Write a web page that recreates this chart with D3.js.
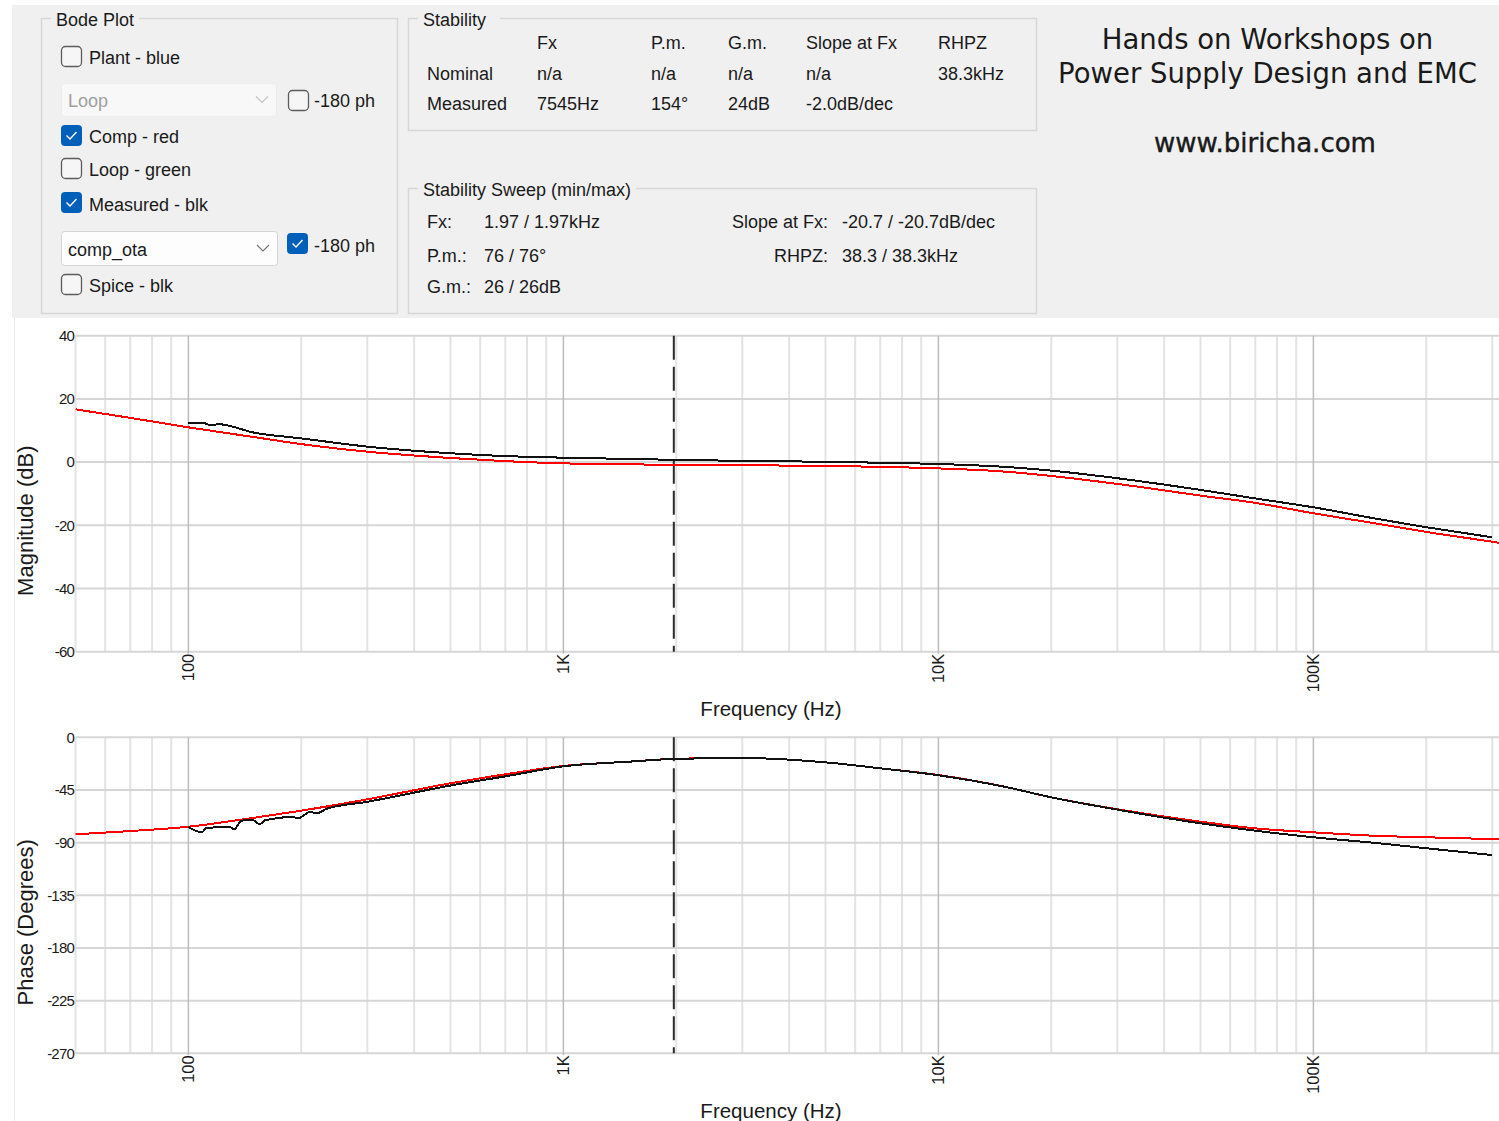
<!DOCTYPE html>
<html>
<head>
<meta charset="utf-8">
<script src="https://cdnjs.cloudflare.com/ajax/libs/d3/7.8.5/d3.min.js"></script>
<style>
body { margin: 0; background: #fff; }
svg text { font-family: "Liberation Sans", Arial, sans-serif; fill: #1a1a1a; }
</style>
</head>
<body>
<div id="bode"></div>
<script>
// compensator (red) curve
var compFreq  = [50, 70, 100, 150, 200, 300, 500, 700, 1000, 1500, 2000, 3000, 5000, 7000, 10000, 15000, 20000, 30000, 50000, 70000, 100000, 150000, 200000, 300000, 400000];
var compMag   = [16.7, 14.0, 11.0, 7.9, 5.7, 3.3, 1.3, 0.3, -0.4, -0.7, -0.9, -1.0, -1.2, -1.5, -2.0, -3.0, -4.4, -6.9, -10.6, -12.9, -16.2, -19.6, -22.1, -25.2, -27.5];
var compPhase = [-82.9, -80.1, -76.4, -68.7, -62.7, -53.0, -39.3, -31.6, -24.5, -20.8, -18.3, -17.7, -21.4, -26.5, -32.2, -42.2, -51.3, -61.5, -72.1, -77.8, -81.2, -84.3, -85.4, -87.0, -88.0];

// measured (black) magnitude
var measMagFreq = [100, 110, 115, 120, 150, 200, 300, 500, 700, 1000, 1500, 2000, 3000, 5000, 7000, 10000, 15000, 20000, 30000, 50000, 70000, 100000, 150000, 200000, 300000];
var measMag     = [12.3, 12.3, 11.6, 12.0, 9.3, 7.5, 4.9, 2.8, 1.9, 1.4, 1.0, 0.7, 0.4, 0.1, -0.2, -0.6, -1.5, -2.7, -5.1, -8.8, -11.5, -14.3, -18.1, -20.6, -23.8];

// measured (black) phase, noisy at low frequency
var measPhaseFreq = [100, 108.6, 111.5, 129, 132, 139, 148, 155, 160, 190, 196, 211, 220, 234, 299, 318, 500, 700, 1000, 1500, 2000, 3000, 5000, 7000, 10000, 15000, 20000, 30000, 50000, 70000, 100000, 150000, 200000, 300000];
var measPhase     = [-76.6, -81.2, -77.6, -76.4, -78.8, -71.2, -70.6, -74.3, -70.9, -68.0, -69.2, -63.8, -65.0, -61.0, -55.2, -53.6, -41.2, -33.4, -24.8, -20.8, -18.4, -17.7, -21.4, -26.5, -32.4, -42.2, -51.3, -61.8, -73.5, -79.8, -85.4, -90.6, -94.8, -100.6];

var magTicks = [40, 20, 0, -20, -40, -60];
var phaseTicks = [0, -45, -90, -135, -180, -225, -270];
var freqTicks = [100, 1000, 10000, 100000];
var freqLabels = ["100", "1K", "10K", "100K"];
var crossFreq = 1970;

var svgWidth = 1499;
var svgHeight = 1121;

var svg = d3.select('#bode')
    .append('svg')
    .attr('width', svgWidth)
    .attr('height', svgHeight);

//---------------- top control panel ----------------
svg.append('rect').attr('x', 12).attr('y', 5).attr('width', 1487).attr('height', 313).attr('fill', '#f0f0f0');
svg.append('line').attr('x1', 14.5).attr('x2', 14.5).attr('y1', 318).attr('y2', svgHeight).attr('stroke', '#e8e8e8');

function groupBox(x, y, w, h, title, titleW) {
    svg.append('rect').attr('x', x + 0.5).attr('y', y + 0.5).attr('width', w).attr('height', h)
        .attr('fill', 'none').attr('stroke', '#d7d7d7').attr('stroke-width', 1.5);
    svg.append('rect').attr('x', x + 10).attr('y', y - 4).attr('width', titleW).attr('height', 10).attr('fill', '#f0f0f0');
    svg.append('text').attr('x', x + 15).attr('y', y + 7.5).style('font-size', '18px').text(title);
}

function label(x, y, txt, anchor, color) {
    return svg.append('text').attr('x', x).attr('y', y)
        .style('font-size', '18px')
        .style('text-anchor', anchor || 'start')
        .style('fill', color || '#1a1a1a')
        .text(txt);
}

function checkBox(x, y, checked) {
    if (checked) {
        svg.append('rect').attr('x', x).attr('y', y).attr('width', 21).attr('height', 21).attr('rx', 4)
            .attr('fill', '#005fb8');
        svg.append('path').attr('d', `M${x + 5.5},${y + 10.5} L${x + 9},${y + 14} L${x + 15.5},${y + 7}`)
            .attr('fill', 'none').attr('stroke', '#fff').attr('stroke-width', 1.4);
    } else {
        svg.append('rect').attr('x', x + 0.5).attr('y', y + 0.5).attr('width', 20).attr('height', 20).attr('rx', 4)
            .attr('fill', '#f6f6f6').attr('stroke', '#5c5c5c').attr('stroke-width', 1.3);
    }
}

function comboBox(x, y, w, h, txt, disabled) {
    svg.append('rect').attr('x', x + 0.5).attr('y', y + 0.5).attr('width', w).attr('height', h).attr('rx', 3)
        .attr('fill', disabled ? '#f8f8f8' : '#fdfdfd').attr('stroke', disabled ? '#ececec' : '#d4d4d4');
    var cx = x + w - 14, cy = y + h / 2;
    svg.append('path').attr('d', `M${cx - 6},${cy - 3} L${cx},${cy + 3} L${cx + 6},${cy - 3}`)
        .attr('fill', 'none').attr('stroke', disabled ? '#c4c4c4' : '#777').attr('stroke-width', 1.2);
    label(x + 7, y + h - 9, txt, 'start', disabled ? '#a0a0a0' : '#1a1a1a');
}

// Bode Plot group
groupBox(41, 18, 356, 295, 'Bode Plot', 88);
checkBox(61, 46, false); label(89, 64, 'Plant - blue');
comboBox(61, 83, 215, 33, 'Loop', true);
checkBox(288, 90, false); label(314, 107, '-180 ph');
checkBox(61, 125, true); label(89, 143, 'Comp - red');
checkBox(61, 158, false); label(89, 176, 'Loop - green');
checkBox(61, 192, true); label(89, 211, 'Measured - blk');
comboBox(61, 231, 216, 34, 'comp_ota', false);
checkBox(287, 233, true); label(314, 252, '-180 ph');
checkBox(61, 274, false); label(89, 292, 'Spice - blk');

// Stability group
groupBox(408, 18, 628, 112, 'Stability', 82);
var stabCols = [537, 651, 728, 806, 938];
var stabHead = ['Fx', 'P.m.', 'G.m.', 'Slope at Fx', 'RHPZ'];
var stabNominal = ['n/a', 'n/a', 'n/a', 'n/a', '38.3kHz'];
var stabMeasured = ['7545Hz', '154°', '24dB', '-2.0dB/dec', ''];
stabHead.forEach((t, i) => label(stabCols[i], 49, t));
label(427, 80, 'Nominal');
stabNominal.forEach((t, i) => label(stabCols[i], 80, t));
label(427, 110, 'Measured');
stabMeasured.forEach((t, i) => label(stabCols[i], 110, t));

// Stability sweep group
groupBox(408, 188, 628, 125, 'Stability Sweep (min/max)', 218);
label(427, 228, 'Fx:'); label(484, 228, '1.97 / 1.97kHz');
label(427, 262, 'P.m.:'); label(484, 262, '76 / 76°');
label(427, 293, 'G.m.:'); label(484, 293, '26 / 26dB');
label(828, 228, 'Slope at Fx:', 'end'); label(842, 228, '-20.7 / -20.7dB/dec');
label(828, 262, 'RHPZ:', 'end'); label(842, 262, '38.3 / 38.3kHz');

// banner text
var banner = svg.append('g');
banner.append('text').attr('x', 1267.5).attr('y', 48.5).style('text-anchor', 'middle')
    .style('font-family', '"DejaVu Sans"').style('font-size', '27.5px').text('Hands on Workshops on');
banner.append('text').attr('x', 1267.5).attr('y', 82.5).style('text-anchor', 'middle')
    .style('font-family', '"DejaVu Sans"').style('font-size', '27.5px').text('Power Supply Design and EMC');
banner.append('text').attr('x', 1265).attr('y', 151.5).style('text-anchor', 'middle')
    .style('font-family', '"DejaVu Sans"').style('font-size', '26px').style('stroke', '#1a1a1a').style('stroke-width', 0.4)
    .text('www.biricha.com');

//---------------- plots ----------------
var plotLeft = 75.5;
var decadePx = 375;
var x = d3.scaleLog().domain([50, 500000]).range([plotLeft, plotLeft + 4 * decadePx]);

var magY = d3.scaleLinear().domain([-60, 40]).range([651.7, 335.7]);
var phaseY = d3.scaleLinear().domain([-270, 0]).range([1053.3, 737.3]);

function drawPanel(yScale, ticks, id, yTitle, comp, meas, measFreq) {
    var top = yScale.range()[1], bottom = yScale.range()[0];
    var g = svg.append('g');

    svg.append('clipPath').attr('id', id)
        .append('rect').attr('x', plotLeft).attr('y', top - 2).attr('width', svgWidth - plotLeft).attr('height', bottom - top + 4);

    // vertical grid (log minor and decades)
    var xt = x.ticks().filter(f => x(f) <= svgWidth);
    g.selectAll('.vminor').data(xt.filter(f => freqTicks.indexOf(f) < 0))
        .enter().append('line')
        .attr('x1', d => x(d)).attr('x2', d => x(d))
        .attr('y1', top).attr('y2', bottom)
        .attr('stroke', '#e3e3e3').attr('stroke-width', 2);

    // horizontal grid
    g.selectAll('.hgrid').data(ticks)
        .enter().append('line')
        .attr('x1', plotLeft).attr('x2', svgWidth)
        .attr('y1', d => yScale(d)).attr('y2', d => yScale(d))
        .attr('stroke', '#d6d6d6').attr('stroke-width', 2);

    g.selectAll('.vmajor').data(freqTicks)
        .enter().append('line')
        .attr('x1', d => x(d)).attr('x2', d => x(d))
        .attr('y1', top).attr('y2', bottom + 2)
        .attr('stroke', '#bcbcbc').attr('stroke-width', 1.5);

    // y tick labels
    g.selectAll('.ylab').data(ticks)
        .enter().append('text')
        .attr('x', 74).attr('y', d => yScale(d))
        .attr('dy', '0.35em')
        .style('text-anchor', 'end')
        .style('font-size', '15px')
        .style('letter-spacing', '-0.8px')
        .text(d => d);

    // x tick labels, rotated
    g.selectAll('.xlab').data(freqTicks)
        .enter().append('text')
        .attr('transform', d => `translate(${x(d) + 6},${bottom + 2}) rotate(-90)`)
        .style('text-anchor', 'end')
        .style('font-size', '16.5px')
        .text((d, i) => freqLabels[i]);

    // crossover marker
    g.append('line')
        .attr('x1', x(crossFreq)).attr('x2', x(crossFreq))
        .attr('y1', top).attr('y2', bottom)
        .attr('stroke', '#2a2a2a').attr('stroke-width', 2)
        .attr('stroke-dasharray', '24,7');

    var line = d3.line()
        .x(d => x(d[0]))
        .y(d => yScale(d[1]))
        .curve(d3.curveMonotoneX);

    var lines = g.append('g').attr('clip-path', `url(#${id})`);
    lines.append('path')
        .datum(compFreq.map((f, i) => [f, comp[i]]))
        .attr('d', line)
        .attr('fill', 'none').attr('stroke', '#ff0000').attr('stroke-width', 2)
        .style('shape-rendering', 'crispEdges');
    lines.append('path')
        .datum(measFreq.map((f, i) => [f, meas[i]]))
        .attr('d', line)
        .attr('fill', 'none').attr('stroke', '#111').attr('stroke-width', 2)
        .style('shape-rendering', 'crispEdges');

    // axis titles
    var midY = (top + bottom) / 2;
    g.append('text')
        .attr('transform', `translate(33,${midY + 27}) rotate(-90)`)
        .style('text-anchor', 'middle')
        .style('font-size', '22px')
        .text(yTitle);
    g.append('text')
        .attr('x', 771).attr('y', bottom + 64.5)
        .style('text-anchor', 'middle')
        .style('font-size', '20.5px')
        .text('Frequency (Hz)');
}

drawPanel(magY, magTicks, 'clipMag', 'Magnitude (dB)', compMag, measMag, measMagFreq);
drawPanel(phaseY, phaseTicks, 'clipPhase', 'Phase (Degrees)', compPhase, measPhase, measPhaseFreq);
</script>
</body>
</html>
